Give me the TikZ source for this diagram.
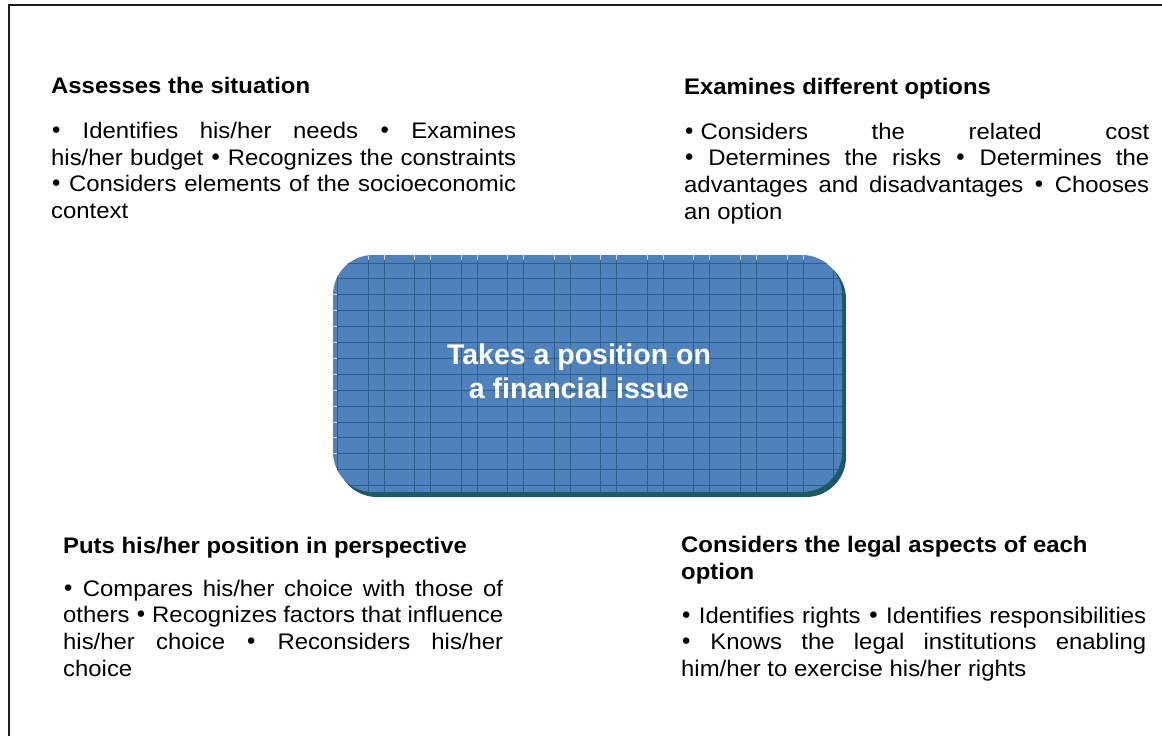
\documentclass[tikz,border=0pt]{standalone}
\usepackage{fontspec}
\setmainfont{Liberation Sans}[FakeStretch=1.062]
\newfontfamily\issuefont{Liberation Sans}
\newfontfamily\bulfont{DejaVu Sans}
\usepackage{tikz}
\usetikzlibrary{positioning}
\definecolor{framerule}{RGB}{30,30,30}
\definecolor{issueblue}{RGB}{79,129,189}
\definecolor{issueshade}{RGB}{31,88,102}
\definecolor{issuegrid}{RGB}{47,95,135}
\tolerance=10000
\hyphenpenalty=10000
\newcommand\bul{\makebox[10pt][c]{\bulfont •}}
\tikzset{
  heading/.style={anchor=base west,inner sep=0pt,align=left,font=\bfseries\fontsize{22.5}{27.5}\selectfont},
  bodytext/.style={anchor=base west,inner sep=0pt,align=justify,font=\fontsize{22.5}{26.7}\selectfont},
  issuetext/.style={inner sep=0pt,align=center,text=white,font=\issuefont\bfseries\fontsize{28.5}{34}\selectfont},
  gridline/.style={issuegrid,line width=0.9pt},
  gridtick/.style={white!70!issueblue,line width=0.9pt}
}

\begin{document}
\begin{tikzpicture}[x=1pt,y=-1pt]
  \useasboundingbox (0,0) rectangle (1162,736);
  \fill[white] (0,0) rectangle (1162,736);
  \draw[framerule,line width=2pt] (8.5,750) -- (8.5,4.5) -- (1175,4.5);

  \node[heading] (sit) at (51,93.5) {Assesses the situation};
  \node[bodytext,text width=465pt] (sitbody) at (51,138.5)
    {\bul{} Identifies his/her needs \bul{} Examines\linebreak his/her budget \bul{} Recognizes the constraints\linebreak \bul{} Considers elements of the socioeconomic\linebreak context};

  \node[heading] (opt) at (684,94) {Examines different options};
  \node[bodytext,text width=465pt] (optbody) at (684,139)
    {\bul\kern0.28em Considers the related cost\linebreak \bul{} Determines the risks \bul{} Determines the\linebreak advantages and disadvantages \bul{} Chooses\linebreak an option};

  \node[heading] (persp) at (63,553) {Puts his/her position in perspective};
  \node[bodytext,text width=440pt] (perspbody) at (63,596)
    {\bul{} Compares his/her choice with those of\linebreak others \bul{} Recognizes factors that influence\linebreak his/her choice \bul{} Reconsiders his/her\linebreak choice};

  \node[heading] (legal) at (681,579.5) {Considers the legal aspects of each\\option};
  \node[bodytext,text width=465pt] (legalbody) at (681,623)
    {\bul{} Identifies rights \bul{} Identifies responsibilities\linebreak \bul{} Knows the legal institutions enabling\linebreak him/her to exercise his/her rights};

  % central box: shadow, blue fill, grid
  \fill[issueshade,rounded corners=40pt] (337,259) rectangle (846,497);
  \begin{scope}
    \clip[rounded corners=40pt] (333,255) rectangle (842,492);
    \fill[issueblue] (333,255) rectangle (842,492);
    \foreach \k in {0,...,14}{
      \draw[gridline] (333,263+15.9*\k) -- (842,263+15.9*\k);
      \draw[gridtick] (333,263+15.9*\k) -- (338,263+15.9*\k);
    }
    \foreach \k in {-1,...,10}{
      \draw[gridline] (368+46.56*\k,255) -- (368+46.56*\k,492);
      \draw[gridline] (384+46.56*\k,255) -- (384+46.56*\k,492);
      \draw[gridtick] (368+46.56*\k,255) -- (368+46.56*\k,260);
      \draw[gridtick] (384+46.56*\k,255) -- (384+46.56*\k,260);
    }
  \end{scope}
  \node[issuetext] (issue) at (579,371.5) {Takes a position on\\a financial issue};
\end{tikzpicture}
\end{document}
